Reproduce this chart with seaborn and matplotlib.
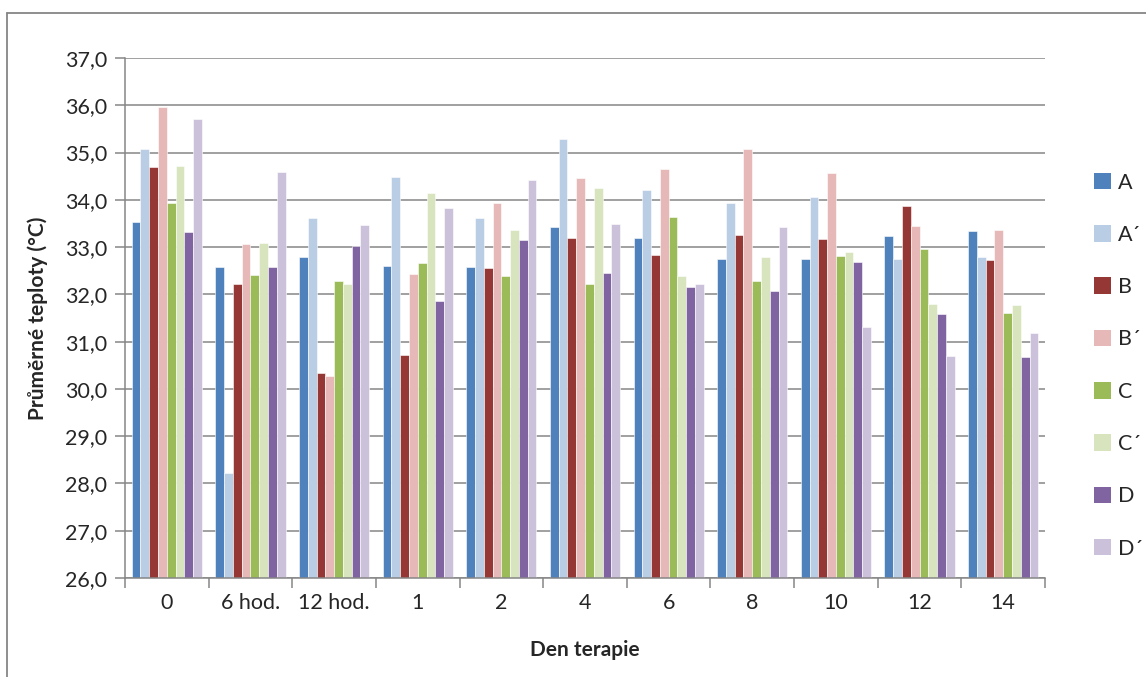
import matplotlib
matplotlib.use("Agg")
import matplotlib.pyplot as plt
from matplotlib.lines import Line2D
from matplotlib.patches import Patch
from matplotlib.ticker import FuncFormatter, MultipleLocator, FixedLocator
import seaborn as sns
import pandas as pd

# Days of therapy (categories on the x axis)
days = ["0", "6 hod.", "12 hod.", "1", "2", "4", "6", "8", "10", "12", "14"]

# Mean temperatures (°C) for each group
A       = [33.53, 32.57, 32.79, 32.59, 32.57, 33.43, 33.19, 32.74, 32.74, 33.24, 33.35]
A_prime = [35.07, 28.23, 33.62, 34.48, 33.62, 35.28, 34.21, 33.93, 34.05, 32.74, 32.79]
B       = [34.70, 32.22, 30.34, 30.72, 32.56, 33.19, 32.84, 33.26, 33.17, 33.86, 32.73]
B_prime = [35.96, 33.07, 30.27, 32.43, 33.94, 34.47, 34.65, 35.07, 34.56, 33.44, 33.36]
C       = [33.94, 32.41, 32.29, 32.66, 32.39, 32.22, 33.64, 32.29, 32.82, 32.97, 31.61]
C_prime = [34.72, 33.08, 32.22, 34.14, 33.36, 34.24, 32.39, 32.78, 32.89, 31.79, 31.77]
D       = [33.32, 32.57, 33.02, 31.87, 33.14, 32.46, 32.16, 32.07, 32.69, 31.59, 30.68]
D_prime = [35.71, 34.59, 33.47, 33.83, 34.41, 33.48, 32.21, 33.43, 31.32, 30.70, 31.19]

groups = ["A", "A\u00b4", "B", "B\u00b4", "C", "C\u00b4", "D", "D\u00b4"]
series = [A, A_prime, B, B_prime, C, C_prime, D, D_prime]
colors = ["#4F81BD", "#B9CDE5", "#953735", "#E6B9B8",
          "#9BBB59", "#D7E4BD", "#8064A2", "#CCC1DA"]

df = pd.DataFrame(
    [(d, g, v) for g, vals in zip(groups, series) for d, v in zip(days, vals)],
    columns=["den", "skupina", "teplota"],
)

sns.set_theme(style="white")
plt.rcParams["font.family"] = ["Lato", "DejaVu Sans"]

fig = plt.figure(figsize=(11.46, 6.77), dpi=100)
ax = fig.add_axes([125 / 1146, 1 - 578 / 677, 920 / 1146, 520 / 677])

sns.barplot(data=df, x="den", y="teplota", hue="skupina", order=days,
            hue_order=groups, palette=colors, saturation=1, width=0.84,
            dodge=True, ax=ax, legend=False, errorbar=None,
            edgecolor="white", linewidth=0.4)

grid_col = "#868686"
ax.set_ylim(26, 37)
ax.set_xlim(-0.5, len(days) - 0.5)
ax.yaxis.set_major_locator(MultipleLocator(1))
ax.yaxis.set_major_formatter(FuncFormatter(lambda v, _: f"{v:.1f}".replace(".", ",")))
ax.grid(axis="y", color=grid_col, linewidth=1.1)
ax.set_axisbelow(True)

for side in ("top", "right"):
    ax.spines[side].set_visible(False)
for side in ("left", "bottom"):
    ax.spines[side].set_color(grid_col)
    ax.spines[side].set_linewidth(1.1)

ax.tick_params(axis="y", which="major", direction="out", length=7, width=1.1,
               color=grid_col, labelsize=15.5, pad=6, left=True)
ax.tick_params(axis="x", which="major", length=0, labelsize=15.5, pad=11)
ax.xaxis.set_minor_locator(FixedLocator([i - 0.5 for i in range(len(days) + 1)]))
ax.tick_params(axis="x", which="minor", direction="out", length=7, width=1.1,
               color=grid_col, bottom=True)

ax.set_xlabel("Den terapie", fontsize=15, fontweight="bold", labelpad=19)
ax.set_ylabel("Průměrné teploty (°C)", fontsize=15, fontweight="bold", labelpad=12)

handles = [Patch(facecolor=c, edgecolor="none") for c in colors]
fig.legend(handles, groups, loc="upper left", bbox_to_anchor=(1085 / 1146, 1 - 164 / 677),
           frameon=False, fontsize=15.5, handlelength=0.8, handleheight=0.8,
           handletextpad=0.35, labelspacing=1.5, borderaxespad=0)

# chart area border (left and top edges)
fig.add_artist(Line2D([7 / 1146, 7 / 1146], [0, 1 - 13 / 677], transform=fig.transFigure,
                      color=grid_col, linewidth=1.3))
fig.add_artist(Line2D([7 / 1146, 1], [1 - 13 / 677, 1 - 13 / 677], transform=fig.transFigure,
                      color=grid_col, linewidth=1.3))

fig.savefig("out.png", dpi=100)
